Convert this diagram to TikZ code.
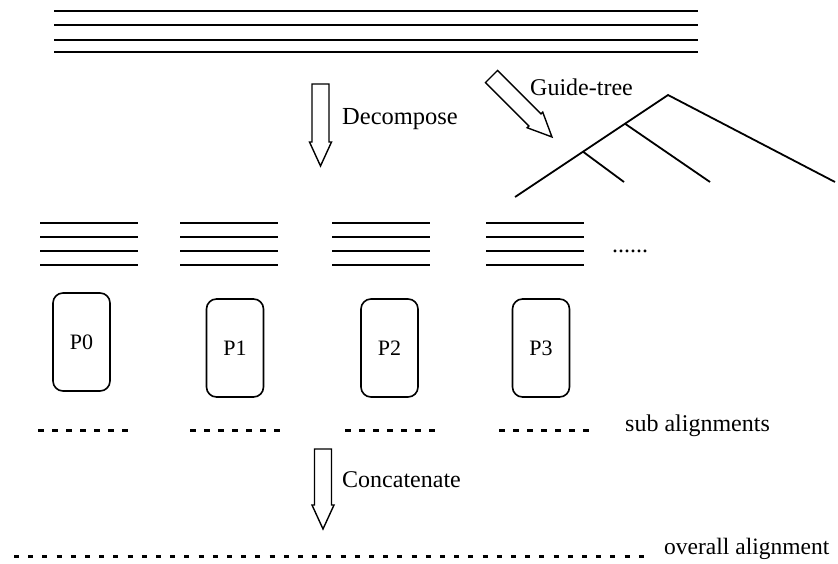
\documentclass[tikz,border=0pt]{standalone}
\usepackage{fontspec}
\setmainfont{Liberation Serif}
\begin{document}
\begin{tikzpicture}[x=1pt,y=-1pt,
  rule/.style={line width=1.8pt},
  procbox/.style={draw, line width=1.6pt, rounded corners=10pt,
    minimum width=57pt, minimum height=98pt, inner sep=0pt,
    font=\fontsize{22}{26}\selectfont},
  hollowarrow/.style={draw, line width=1.4pt, fill=white, line join=miter},
  subdash/.style={line width=3pt, dash pattern=on 6pt off 8pt},
  overalldots/.style={line width=3pt, dash pattern=on 5pt off 9.2pt},
  lbl/.style={inner sep=0pt, anchor=base west},
  pics/blockarrow/.style={code={
    \draw[hollowarrow] (0,-8.5) -- (#1-24,-8.5) -- (#1-24,-11) -- (#1,0)
      -- (#1-24,11) -- (#1-24,8.5) -- (0,8.5) -- cycle;
  }},
]
\useasboundingbox (0,0) rectangle (838,564);

% full input alignment
\foreach \y in {11,25,40,52}
  \draw[rule] (54,\y) -- (698,\y);

% decomposition step
\pic[rotate=-90] at (320.5,84) {blockarrow=82};
\node[lbl, font=\fontsize{24.5}{28}\selectfont] (decomp) at (342,125) {Decompose};

% guide tree
\pic[rotate=-45] at (491.5,76.5) {blockarrow=85.5};
\node[lbl, font=\fontsize{24}{28}\selectfont] (guide) at (530,96) {Guide-tree};
\coordinate (root) at (668,95);
\coordinate (inA) at (625,123.7);
\coordinate (inB) at (583,151.7);
\coordinate (leaf1) at (515,197);
\coordinate (leaf2) at (624,182);
\coordinate (leaf3) at (710,182);
\coordinate (leaf4) at (835,182);
\draw[rule] (leaf1) -- (root) -- (leaf4);
\draw[rule] (inA) -- (leaf3);
\draw[rule] (inB) -- (leaf2);

% partitions of the alignment
\foreach \x in {40,180,332,486}
  \foreach \y in {223,237,251,265}
    \draw[rule] (\x,\y) -- ++(98,0);
\node[lbl, font=\fontsize{24}{28}\selectfont] (more) at (612,252) {......};

% processors
\node[procbox] (p0) at (81.5,342) {P0};
\node[procbox] (p1) at (235,348) {P1};
\node[procbox] (p2) at (389.5,348) {P2};
\node[procbox] (p3) at (541,348) {P3};

% sub alignments
\foreach \x in {38,190,345,499}
  \draw[subdash] (\x,430) -- ++(92,0);
\node[lbl, font=\fontsize{24}{28}\selectfont] (subal) at (625,431) {sub alignments};

% concatenation step
\pic[rotate=-90] at (323,449) {blockarrow=80};
\node[lbl, font=\fontsize{24}{28}\selectfont] (concat) at (342,487) {Concatenate};

% overall alignment
\draw[overalldots] (14,556) -- (652,556);
\node[lbl, font=\fontsize{23.5}{28}\selectfont] (overall) at (664,554) {overall alignment};
\end{tikzpicture}
\end{document}
